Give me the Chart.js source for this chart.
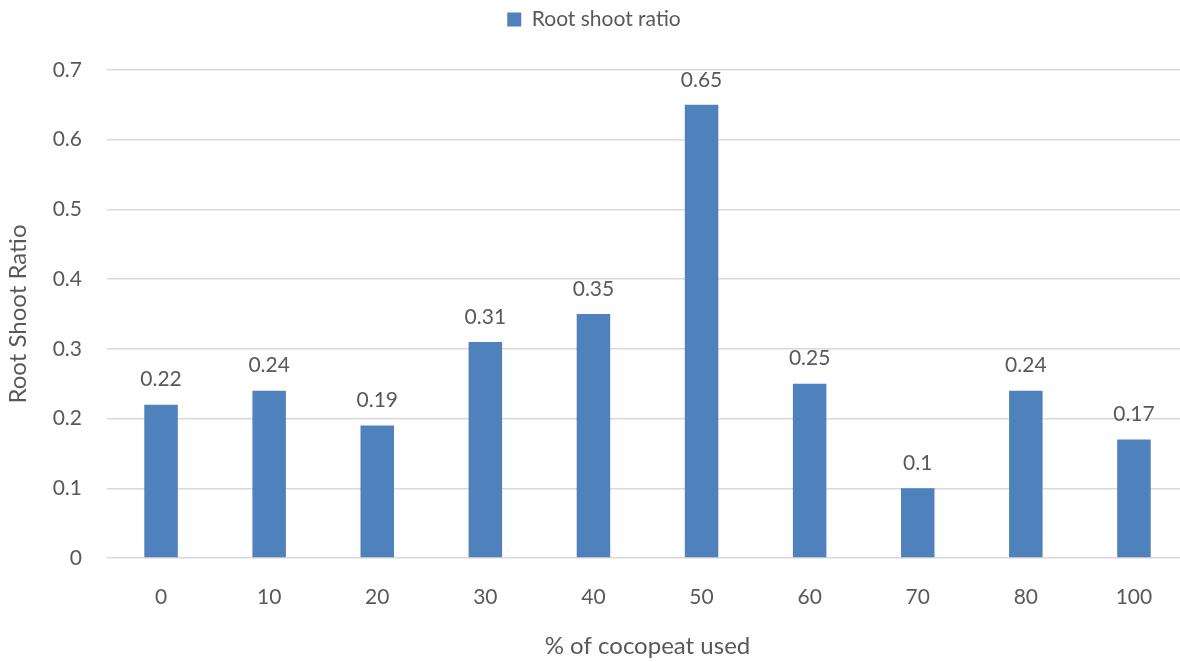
<!DOCTYPE html>
<html>
<head>
<meta charset="utf-8">
<script src="https://cdn.jsdelivr.net/npm/chart.js@4/dist/chart.umd.min.js"></script>
<style>
  html, body { margin: 0; padding: 0; background: #fff; overflow: hidden; }
  #wrap { width: 1188px; height: 662px; }
</style>
</head>
<body>
<div id="wrap"><canvas id="c" width="1188" height="662"></canvas></div>
<script>
const categories = ['0', '10', '20', '30', '40', '50', '60', '70', '80', '100'];
const rootShootRatio = [0.22, 0.24, 0.19, 0.31, 0.35, 0.65, 0.25, 0.1, 0.24, 0.17];
const seriesName = 'Root shoot ratio';
const xTitle = '% of cocopeat used';
const yTitle = 'Root Shoot Ratio';

const FONT = 'Lato, "Open Sans", sans-serif';
const TEXT = '#595959';
const BAR = '#4F81BD';

// Writes each bar's value just above it
const valueLabels = {
  id: 'valueLabels',
  afterDatasetsDraw(chart) {
    const ctx = chart.ctx;
    ctx.save();
    ctx.font = '21px ' + FONT;
    ctx.fillStyle = TEXT;
    ctx.textAlign = 'center';
    ctx.textBaseline = 'middle';
    chart.getDatasetMeta(0).data.forEach((bar, i) => {
      ctx.fillText(String(rootShootRatio[i]), bar.x, bar.y - 25);
    });
    ctx.restore();
  }
};

// Reserves a taller band for the legend so the plot starts lower
const legendBand = {
  id: 'legendBand',
  beforeUpdate(chart) {
    const lg = chart.legend;
    if (lg && !lg._bandPatched) {
      const fit = lg.fit.bind(lg);
      lg.fit = function () { fit(); this.height = 70; };
      lg._bandPatched = true;
    }
  }
};

new Chart(document.getElementById('c'), {
  type: 'bar',
  data: {
    labels: categories,
    datasets: [{
      label: seriesName,
      data: rootShootRatio,
      backgroundColor: BAR,
      borderWidth: 0,
      barPercentage: 0.31,
      categoryPercentage: 1
    }]
  },
  options: {
    responsive: false,
    animation: false,
    layout: { padding: 0 },
    plugins: {
      legend: {
        position: 'top',
        labels: {
          font: { family: FONT, size: 21 },
          color: TEXT,
          boxWidth: 14,
          boxHeight: 14,
          padding: 9
        }
      },
      tooltip: { enabled: false }
    },
    scales: {
      x: {
        grid: { display: false },
        border: { display: false },
        ticks: { font: { family: FONT, size: 21 }, color: TEXT, padding: 19 },
        title: {
          display: true, text: xTitle,
          font: { family: FONT, size: 24 }, color: TEXT,
          padding: { top: 10, bottom: 1 }
        },
        afterFit(scale) { scale.height = 104; }
      },
      y: {
        min: 0, max: 0.7,
        ticks: { stepSize: 0.1, font: { family: FONT, size: 21 }, color: TEXT, padding: 25 },
        grid: { color: '#D9D9D9', lineWidth: 1.5, drawTicks: false },
        border: { display: false },
        title: {
          display: true, text: yTitle,
          font: { family: FONT, size: 24 }, color: TEXT,
          padding: { top: 4, bottom: 10 }
        },
        afterFit(scale) { scale.width = 107; }
      }
    }
  },
  plugins: [valueLabels, legendBand]
});
</script>
</body>
</html>
